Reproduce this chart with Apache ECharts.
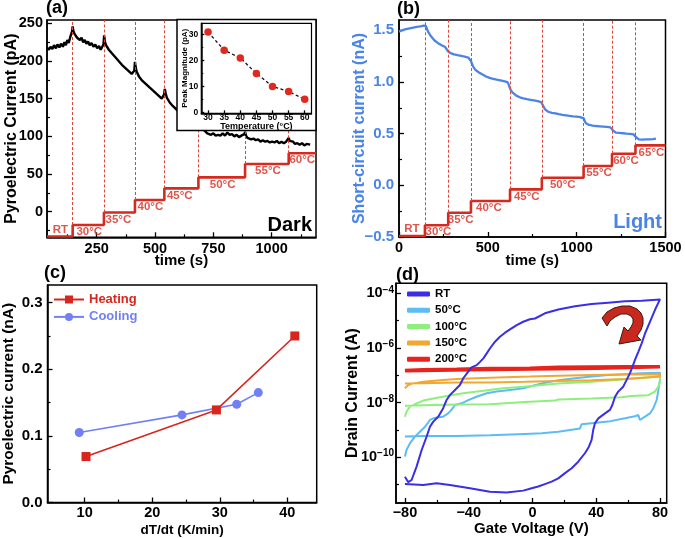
<!DOCTYPE html>
<html><head><meta charset="utf-8">
<script src="https://cdn.jsdelivr.net/npm/echarts@6.0.0/dist/echarts.min.js"></script>
<style>html,body{margin:0;padding:0;background:#fff;}#chart{width:685px;height:538px;}</style>
</head><body><div id="chart"></div>
<script>
const FONT = '"Liberation Sans", Arial, Helvetica, sans-serif';

// ---------- Panel (a): dark ----------
const darkCurve = [[37,218],[45,215],[52,219],[60,216],[67,221],[75,217],[82,222],[90,218],[97,223],[105,219],[112,225],[118,221],[124,228],[130,224],[136,231],[141,233],[145,240],[147,246],
[150,240],[155,236],[160,237],[166,231],[172,233],[178,228],[185,231],[192,225],[199,228],[206,223],[213,226],[220,221],[228,224],[236,219],[244,222],[252,217],[260,220],[267,215],[274,214],[279,222],[282,234],
[285,226],[290,221],[296,219],[302,215],[309,215],[316,210],[323,210],[330,205],[337,205],[344,200],[351,200],[358,195],[365,196],[372,191],[379,191],[386,187],[393,187],[400,183],[406,181],[411,187],[414,199],
[417,192],[421,186],[426,184],[432,179],[438,179],[445,174],[452,175],[459,170],[466,170],[473,166],[480,166],[487,162],[494,162],[501,158],[508,158],[515,154],[522,154],[529,150],[535,150],[539,156],[542,163],
[546,157],[551,151],[557,150],[563,145],[570,144],[577,140],[584,140],[591,136],[598,136],[605,132],[612,132],[619,129],[626,129],[633,126],[640,126],[647,123],[654,124],[661,120],[668,121],[675,118],[681,121],[686,128],
[690,123],[695,116],[701,114],[708,109],[716,108],[724,104],[732,105],[740,102],[750,104],[760,101],[770,102],[780,101],[790,104],[800,101],[810,105],[820,102],[830,103],[840,100],[850,102],[860,99],[870,101],[878,100],[883,103],[886,106],
[890,101],[896,98],[903,99],[912,96],[922,97],[932,95],[942,96],[952,93],[962,95],[972,93],[982,94],[992,92],[1002,93],[1012,92],[1022,94],[1032,91],[1042,93],[1052,91],[1062,93],[1069,94],[1073,98],
[1077,94],[1084,92],[1092,93],[1100,90],[1110,91],[1120,89],[1130,91],[1140,88],[1150,90],[1158,88],[1165,89]];
const darkStepTimes = [37,147,281,414,540,686,886,1073];
const darkStepEnd = 1190;
const darkStepLevels = [-33,-17.7,-1,15.5,31,45.6,63.3,77.5];
const darkStepNames = ['RT','30°C','35°C','40°C','45°C','50°C','55°C','60°C'];
const darkLabelTimes = [94,218,343,480,606,790,984,1131];
const darkXTicks = [250,500,750,1000], darkXMinor = [125,375,625,875,1125];
const darkYTicks = [0,50,100,150,200,250], darkYMinor = [-25,25,75,125,175,225];

// inset
const insetTemps = [30,35,40,45,50,55,60];
const insetPeaks = [31,24,21,15,10,8,5];
const insetXTicks = [30,35,40,45,50,55,60];
const insetYTicks = [0,10,20,30], insetYMinor = [5,15,25];

// ---------- Panel (b): light ----------
const lightCurve = [[0,1.488],[10,1.497],[20,1.503],[30,1.499],[40,1.512],[50,1.507],[60,1.520],[70,1.514],[80,1.527],[90,1.521],[100,1.533],[110,1.528],[120,1.538],[130,1.534],[140,1.546],[147,1.556],[152,1.540],[158,1.510],[165,1.482],[172,1.466],[180,1.442],[190,1.425],[200,1.402],[210,1.393],[220,1.376],[230,1.372],[240,1.356],[250,1.352],[260,1.338],[268,1.336],[275,1.300],[282,1.283],[290,1.279],[300,1.268],[310,1.267],[320,1.258],[330,1.259],[340,1.251],[350,1.252],[360,1.243],[370,1.245],[380,1.236],[390,1.237],[400,1.226],[406,1.200],[412,1.168],[420,1.142],[430,1.118],[440,1.108],[450,1.092],[460,1.088],[470,1.072],[480,1.068],[490,1.053],[500,1.052],[510,1.040],[520,1.040],[530,1.030],[540,1.032],[550,1.022],[560,1.024],[570,1.016],[580,1.018],[590,1.008],[600,1.010],[610,0.998],[617,0.978],[622,0.950],[630,0.918],[640,0.897],[650,0.878],[660,0.868],[670,0.855],[680,0.852],[690,0.843],[700,0.842],[710,0.834],[720,0.834],[730,0.827],[740,0.828],[750,0.820],[760,0.822],[770,0.814],[780,0.815],[790,0.807],[800,0.806],[808,0.788],[815,0.758],[822,0.735],[830,0.718],[840,0.712],[850,0.703],[860,0.702],[870,0.695],[880,0.696],[890,0.688],[900,0.688],[910,0.681],[920,0.682],[930,0.675],[940,0.677],[950,0.670],[960,0.672],[970,0.666],[980,0.668],[990,0.663],[1000,0.665],[1010,0.658],[1020,0.660],[1030,0.653],[1040,0.648],[1046,0.620],[1052,0.600],[1060,0.591],[1070,0.584],[1080,0.585],[1090,0.578],[1100,0.580],[1110,0.574],[1120,0.576],[1130,0.571],[1140,0.573],[1150,0.568],[1160,0.570],[1170,0.565],[1180,0.566],[1190,0.561],[1198,0.552],[1205,0.530],[1212,0.514],[1220,0.511],[1230,0.506],[1240,0.508],[1250,0.502],[1260,0.504],[1270,0.498],[1280,0.500],[1290,0.495],[1300,0.497],[1310,0.492],[1320,0.493],[1328,0.485],[1336,0.463],[1343,0.449],[1350,0.445],[1360,0.441],[1370,0.443],[1380,0.439],[1390,0.444],[1400,0.440],[1410,0.445],[1420,0.443],[1430,0.448],[1440,0.447],[1446,0.452]];
const lightStepTimes = [0,146,277,405,625,804,1039,1199,1331];
const lightStepEnd = 1500;
const lightStepLevels = [-0.49,-0.387,-0.265,-0.152,-0.039,0.074,0.187,0.306,0.387];
const lightStepNames = ['RT','30°C','35°C','40°C','45°C','50°C','55°C','60°C','65°C'];
const lightLabelTimes = [73,222,347,506,719,922,1126,1278,1421];
const lightXTicks = [0,500,1000,1500], lightXMinor = [250,750,1250];
const lightYTicks = [-0.5,0,0.5,1,1.5], lightYMinor = [-0.25,0.25,0.75,1.25];

// ---------- Panel (c) ----------
const heatingRate = [10.2,29.5,41.1];
const heatingCurrent = [0.069,0.139,0.25];
const coolingRate = [9.2,24.4,32.5,35.7];
const coolingCurrent = [0.105,0.1315,0.1475,0.165];
const rateTicks = [10,20,30,40], rateMinor = [15,25,35];
const pyroTicks = [0,0.1,0.2,0.3], pyroMinor = [0.05,0.15,0.25];

// ---------- Panel (d): [gate voltage V, log10 drain current A] ----------
const gateRT = [[-80,-10.72],[-77.9,-10.92],[-75.8,-10.84],[-72.7,-10.35],[-69.5,-9.74],[-66.4,-9.25],[-64.3,-8.89],[-62.2,-8.70],[-59.1,-8.52],[-56.0,-8.21],[-53.9,-7.91],[-51.8,-7.73],[-48.6,-7.54],[-45.5,-7.36],[-43.4,-7.11],[-40.3,-6.87],[-38.2,-6.71],[-35.0,-6.63],[-32.9,-6.51],[-30.8,-6.38],[-28.7,-6.20],[-26.7,-6.02],[-23.5,-5.77],[-20.4,-5.59],[-17.2,-5.44],[-14.1,-5.32],[-9.9,-5.16],[-5.8,-5.04],[-1.6,-4.95],[1.6,-4.92],[7.8,-4.73],[16.2,-4.59],[26.7,-4.47],[37.1,-4.39],[47.5,-4.34],[58.0,-4.29],[68.5,-4.27],[80,-4.22],
[76.8,-4.61],[73.7,-5.04],[70.6,-5.47],[68.5,-5.83],[66.4,-6.14],[64.3,-6.44],[62.6,-6.71],[61.1,-6.93],[59.0,-7.18],[56.9,-7.42],[53.8,-7.60],[51.8,-7.79],[50.1,-8.09],[48.6,-8.27],[45.5,-8.40],[41.3,-8.58],[39.2,-8.76],[38.1,-9.01],[37.1,-9.37],[35.4,-9.62],[32.9,-9.86],[28.7,-10.17],[24.6,-10.41],[20.4,-10.59],[16.2,-10.78],[12.0,-10.90],[7.8,-10.99],[3.6,-11.08],[-0.5,-11.14],[-5.8,-11.23],[-16.2,-11.30],[-26.7,-11.27],[-39.2,-11.14],[-51.8,-11.02],[-60.1,-10.96],[-68.5,-11.02],[-80,-10.99]];
const gate50 = [[-80,-9.98],[-79,-9.74],[-76.8,-9.49],[-73.7,-9.25],[-70.6,-9.07],[-67.4,-8.89],[-64.3,-8.64],[-62.2,-8.58],[-59.1,-8.54],[-56.0,-8.52],[-52.9,-8.40],[-50.8,-8.27],[-48.6,-8.09],[-44.5,-8.03],[-40.3,-7.91],[-35.1,-7.79],[-28.7,-7.66],[-22.5,-7.60],[-14.1,-7.54],[-5.8,-7.48],[5.8,-7.30],[16.2,-7.18],[26.7,-7.11],[37.1,-7.05],[47.5,-6.99],[58,-6.96],[68.5,-6.93],[80,-6.91],
[80,-7.18],[79,-7.54],[77.9,-7.91],[75.8,-8.21],[73.7,-8.40],[70.6,-8.52],[67.4,-8.64],[66.4,-8.46],[64.3,-8.50],[58,-8.58],[47.5,-8.70],[37.1,-8.76],[30.8,-8.80],[29.8,-8.95],[28.7,-9.01],[16.2,-9.07],[5.8,-9.13],[-4.7,-9.15],[-26.7,-9.20],[-47.6,-9.23],[-68.5,-9.23],[-80,-9.25]];
const gate100 = [[-80,-8.52],[-79,-8.34],[-76.8,-8.15],[-72.6,-8.03],[-68.5,-7.93],[-62.2,-7.85],[-53.8,-7.76],[-43.4,-7.66],[-30.8,-7.57],[-18.3,-7.48],[-5.8,-7.42],[16.2,-7.30],[37.1,-7.24],[58,-7.15],[80,-7.05],
[80,-7.18],[79,-7.42],[76.8,-7.60],[72.6,-7.73],[62.2,-7.76],[61.1,-7.81],[55.9,-7.81],[37.1,-7.85],[16.2,-7.89],[14.1,-7.93],[-4.7,-7.98],[-26.7,-8.06],[-47.6,-8.07],[-68.5,-8.10],[-80,-8.12]];
const gate150 = [[-80,-7.48],[-77.9,-7.36],[-74.7,-7.30],[-68.5,-7.24],[-58,-7.18],[-47.6,-7.14],[-26.7,-7.09],[-1.6,-7.05],[16.2,-7.02],[37.1,-6.99],[58,-6.97],[80,-6.96],
[80,-7.05],[58,-7.14],[37.1,-7.18],[16.2,-7.21],[-4.7,-7.24],[-26.7,-7.27],[-47.6,-7.27],[-68.5,-7.29],[-80,-7.30]];
const gate200 = [[-80,-6.83],[-68.5,-6.80],[-47.6,-6.78],[-26.7,-6.75],[-1.6,-6.74],[16.2,-6.71],[37.1,-6.70],[58,-6.69],[80,-6.69],
[80,-6.72],[40,-6.74],[0,-6.77],[-40,-6.80],[-80,-6.84]];
const gateNames = ['RT','50°C','100°C','150°C','200°C'];
const gateXTicks = [-80,-40,0,40,80], gateXMinor = [-60,-20,20,60];
const currentTicks = [1e-10,1e-8,1e-6,1e-4], currentMinor = [1e-11,1e-9,1e-7,1e-5];

// ---------- colors ----------
const RED_STEP = '#d42a1f', RED_DASH = '#e0453c', LIGHT_BLUE = '#4a84e6';
const HEAT = '#d7261e', COOL = '#7280f5';
const GATE_COLORS = ['#3a2ee6','#5cbcf5','#8eee7e','#f0a830','#e8231c'];

// ---------- builders ----------
const grids = [], xAxes = [], yAxes = [];
function addGrid(g) {
  grids.push(Object.assign({show: true, borderColor: '#000', borderWidth: 1.5, containLabel: false}, g));
  return grids.length - 1;
}
function addAxes(list, c) {
  const common = {type: c.type || 'value', gridIndex: c.grid, min: c.min, max: c.max, position: c.position, z: c.z || 0,
    splitLine: {show: false}, minorTick: {show: false}, minorSplitLine: {show: false}};
  if (c.type === 'log') common.logBase = 10;
  list.push(Object.assign({}, common, {
    axisLine: {show: true, onZero: false, lineStyle: {color: '#000', width: 1.5}},
    axisTick: {show: true, inside: true, length: c.tickLen || 5, customValues: c.ticks, lineStyle: {color: '#000', width: 1.3}},
    axisLabel: {show: true, customValues: c.ticks, formatter: c.fmt, margin: c.margin, color: c.color || '#000',
      fontFamily: FONT, fontWeight: 'bold', fontSize: c.size || 14.5, rich: c.rich, hideOverlap: false},
    name: c.name || '', nameLocation: 'middle', nameGap: c.nameGap || 0, nameMoveOverlap: false,
    nameTextStyle: {fontFamily: FONT, fontWeight: 'bold', fontSize: c.nameSize || 15, color: c.nameColor || '#000'}
  }));
  const idx = list.length - 1;
  if (c.minor) {
    list.push(Object.assign({}, common, {
      axisLine: {show: false, onZero: false}, axisLabel: {show: false},
      axisTick: {show: true, inside: true, length: c.minorLen || 3, customValues: c.minor, lineStyle: {color: '#000', width: 1.2}}
    }));
  }
  return idx;
}
const minusFmt = (v, d) => (v < 0 ? '−' : '') + Math.abs(v).toFixed(d);
function stepSeries(times, levels, endT, xi, yi, yTop, name) {
  const data = times.map((t, i) => [t, levels[i]]).concat([[endT, levels[levels.length - 1]]]);
  return {
    name, type: 'line', xAxisIndex: xi, yAxisIndex: yi, step: 'end', data, symbol: 'none', z: 3,
    lineStyle: {color: RED_STEP, width: 2.6}, silent: true,
    markLine: {silent: true, symbol: ['none', 'none'], label: {show: false}, animation: false,
      lineStyle: {type: [3, 2], color: RED_DASH, width: 1},
      data: times.slice(1).map((t, i) => [{coord: [t, levels[i + 1]]}, {coord: [t, yTop]}])}
  };
}
function stepLabels(names, labelTimes, levels, xi, yi, name) {
  return {
    name, type: 'scatter', xAxisIndex: xi, yAxisIndex: yi, symbolSize: 0, silent: true, z: 4,
    data: names.map((n, i) => ({name: n, value: [labelTimes[i], levels[i]],
      label: {position: i === 0 ? 'top' : 'bottom', distance: 1}})),
    label: {show: true, formatter: p => p.name, color: RED_STEP, fontFamily: FONT, fontWeight: 'bold', fontSize: 11.5}
  };
}

// Panel (a)
const gA = addGrid({left: 47, top: 20, width: 269, height: 217.3});
const xA = addAxes(xAxes, {grid: gA, min: 37, max: 1190, position: 'bottom', ticks: darkXTicks, minor: darkXMinor,
  fmt: v => String(v), margin: 4, name: 'time (s)', nameGap: 16, nameSize: 15});
const yA = addAxes(yAxes, {grid: gA, min: -34, max: 254.5, position: 'left', ticks: darkYTicks, minor: darkYMinor,
  fmt: v => String(v), margin: 4, name: 'Pyroelectric Current (pA)', nameGap: 27, nameSize: 16});
// inset
const gI = addGrid({left: 201.3, top: 23.3, width: 110.2, height: 90, z: 12, borderWidth: 1.2});
const xI = addAxes(xAxes, {grid: gI, min: 27.9, max: 62.1, position: 'bottom', ticks: insetXTicks, z: 12, tickLen: 3,
  fmt: v => String(v), margin: 0, size: 8.5, name: 'Temperature (°C)', nameGap: 8.5, nameSize: 9});
const yI = addAxes(yAxes, {grid: gI, min: -0.4, max: 34.4, position: 'left', ticks: insetYTicks, minor: insetYMinor, z: 12, tickLen: 3, minorLen: 2,
  fmt: v => String(v), margin: 3, size: 8.5, name: 'Peak Magnitude (pA)', nameGap: 13, nameSize: 8});

// Panel (b)
const gB = addGrid({left: 399, top: 20, width: 266.5, height: 217});
const xB = addAxes(xAxes, {grid: gB, min: 0, max: 1500, position: 'bottom', ticks: lightXTicks, minor: lightXMinor,
  fmt: v => String(v), margin: 3, name: 'time (s)', nameGap: 16, nameSize: 15});
const yB = addAxes(yAxes, {grid: gB, min: -0.5, max: 1.6, position: 'left', ticks: lightYTicks, minor: lightYMinor,
  fmt: v => minusFmt(v, 1), margin: 5, size: 15, color: LIGHT_BLUE, name: 'Short-circuit current (nA)', nameGap: 31, nameSize: 16, nameColor: LIGHT_BLUE});

// Panel (c)
const gC = addGrid({left: 46.7, top: 285, width: 270, height: 217.7});
const xC = addAxes(xAxes, {grid: gC, min: 4.5, max: 44.34, position: 'bottom', ticks: rateTicks, minor: rateMinor,
  fmt: v => String(v), margin: 3, size: 14.5, name: 'dT/dt (K/min)', nameGap: 20.5, nameSize: 13.5});
const yC = addAxes(yAxes, {grid: gC, min: 0, max: 0.3265, position: 'left', ticks: pyroTicks, minor: pyroMinor,
  fmt: v => v.toFixed(1), margin: 5, size: 15, name: 'Pyroelectric current (nA)', nameGap: 30.5, nameSize: 15.5});

// Panel (d)
const gD = addGrid({left: 396, top: 283.3, width: 270.7, height: 219.6});
const xD = addAxes(xAxes, {grid: gD, min: -85.6, max: 84.2, position: 'bottom', ticks: gateXTicks, minor: gateXMinor,
  fmt: v => minusFmt(v, 0), margin: 3, name: 'Gate Voltage (V)', nameGap: 18, nameSize: 15});
const yD = addAxes(yAxes, {grid: gD, type: 'log', min: Math.pow(10, -11.68), max: Math.pow(10, -3.63), position: 'left',
  ticks: currentTicks, minor: currentMinor,
  fmt: v => '10{s|−' + Math.abs(Math.round(Math.log10(v))) + '}', margin: 2,
  rich: {s: {fontSize: 10, fontWeight: 'bold', fontFamily: FONT, verticalAlign: 'top', padding: [0, 0, 7, 0]}},
  name: 'Drain Current (A)', nameGap: 35, nameSize: 16});

const series = [
  {name: 'dark', type: 'line', xAxisIndex: xA, yAxisIndex: yA, data: darkCurve, symbol: 'none', z: 2,
    lineStyle: {color: '#000', width: 2.4}},
  stepSeries(darkStepTimes, darkStepLevels, darkStepEnd, xA, yA, 254.5, 'darkSteps'),
  stepLabels(darkStepNames, darkLabelTimes, darkStepLevels, xA, yA, 'darkLabels'),
  {name: 'inset', type: 'line', xAxisIndex: xI, yAxisIndex: yI, z: 13,
    data: insetTemps.map((t, i) => [t, insetPeaks[i]]), symbol: 'circle', symbolSize: 7.5,
    itemStyle: {color: '#e02a20'}, lineStyle: {color: '#111', width: 1.3, type: [3, 2.5]}},
  {name: 'light', type: 'line', xAxisIndex: xB, yAxisIndex: yB, data: lightCurve, symbol: 'none', z: 2,
    lineStyle: {color: LIGHT_BLUE, width: 2.3}},
  stepSeries(lightStepTimes, lightStepLevels, lightStepEnd, xB, yB, 1.6, 'lightSteps'),
  stepLabels(lightStepNames, lightLabelTimes, lightStepLevels, xB, yB, 'lightLabels'),
  {name: 'Heating', type: 'line', xAxisIndex: xC, yAxisIndex: yC, data: heatingRate.map((r, i) => [r, heatingCurrent[i]]),
    symbol: 'rect', symbolSize: 9, itemStyle: {color: HEAT}, lineStyle: {color: HEAT, width: 1.6}},
  {name: 'Cooling', type: 'line', xAxisIndex: xC, yAxisIndex: yC, data: coolingRate.map((r, i) => [r, coolingCurrent[i]]),
    symbol: 'circle', symbolSize: 9, itemStyle: {color: COOL}, lineStyle: {color: COOL, width: 1.6}},
];
const gateSets = [gateRT, gate50, gate100, gate150, gate200];
[1, 2, 3, 4, 0].forEach(k => {
  series.push({name: gateNames[k], type: 'line', xAxisIndex: xD, yAxisIndex: yD, symbol: 'none', showSymbol: false,
    data: gateSets[k].map(p => [p[0], Math.pow(10, p[1])]),
    itemStyle: {color: GATE_COLORS[k]}, lineStyle: {color: GATE_COLORS[k], width: k === 4 ? 3.5 : 2}});
});

const arrowPoints = [[602,318],[607,312],[614,308],[622,306],[630,306],[637,309],[641,313],[643,318],[643,324],[641,330],[637,336],[641,340],[619,344],[624,327],[628,331],[631,327],[633,323],[633,319],[631,316],[627,314],[621,314],[615,317],[610,321],[607,326]];

const option = {
  animation: false,
  backgroundColor: '#fff',
  textStyle: {fontFamily: FONT},
  grid: grids, xAxis: xAxes, yAxis: yAxes, series,
  legend: [
    {left: 53, top: 292, orient: 'vertical', padding: 0, itemGap: 2.4, itemWidth: 30, itemHeight: 10,
      selectedMode: false,
      data: [{name: 'Heating', textStyle: {color: HEAT}}, {name: 'Cooling', textStyle: {color: COOL}}],
      textStyle: {fontFamily: FONT, fontWeight: 'bold', fontSize: 13, lineHeight: 15}},
    {left: 407, top: 287, orient: 'vertical', padding: 0, itemGap: 2.3, itemWidth: 23, itemHeight: 5, icon: 'roundRect',
      selectedMode: false, data: gateNames,
      textStyle: {fontFamily: FONT, fontWeight: 'bold', fontSize: 11.5, color: '#000', lineHeight: 14}}
  ],
  graphic: [
    {type: 'rect', z: 10, shape: {x: 177, y: 19.5, width: 139, height: 111}, style: {fill: '#fff', stroke: '#000', lineWidth: 1.5}},
    {type: 'text', x: 46, y: 8, style: {text: '(a)', font: 'bold 18px ' + FONT, fill: '#000', align: 'left', verticalAlign: 'middle'}},
    {type: 'text', x: 397, y: 9, style: {text: '(b)', font: 'bold 18px ' + FONT, fill: '#000', align: 'left', verticalAlign: 'middle'}},
    {type: 'text', x: 44, y: 273, style: {text: '(c)', font: 'bold 18px ' + FONT, fill: '#000', align: 'left', verticalAlign: 'middle'}},
    {type: 'text', x: 396, y: 275, style: {text: '(d)', font: 'bold 18px ' + FONT, fill: '#000', align: 'left', verticalAlign: 'middle'}},
    {type: 'text', x: 312, y: 225, z: 5, style: {text: 'Dark', font: 'bold 20px ' + FONT, fill: '#000', align: 'right', verticalAlign: 'middle'}},
    {type: 'text', x: 662, y: 222, z: 5, style: {text: 'Light', font: 'bold 20px ' + FONT, fill: LIGHT_BLUE, align: 'right', verticalAlign: 'middle'}},
    {type: 'polygon', z: 6, shape: {points: arrowPoints}, style: {fill: '#c8281e', stroke: '#3a1a10', lineWidth: 1}}
  ]
};
const chart = echarts.init(document.getElementById('chart'), null, {renderer: 'canvas'});
chart.setOption(option);
</script></body></html>
